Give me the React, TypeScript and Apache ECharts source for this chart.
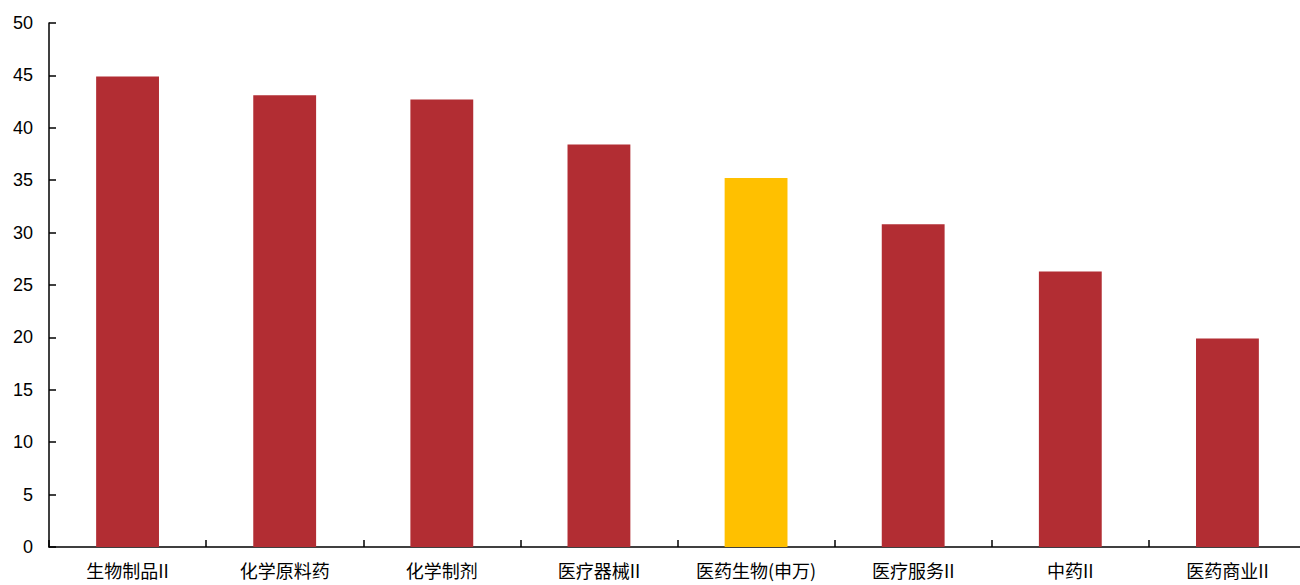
import React, { useEffect, useRef } from "react";
import * as echarts from "echarts";

const categories = ["生物制品II", "化学原料药", "化学制剂", "医疗器械II", "医药生物(申万)", "医疗服务II", "中药II", "医药商业II"];
const values = [44.9, 43.1, 42.7, 38.4, 35.2, 30.8, 26.3, 19.9];
const highlightIndex = 4;
const yTicks = { min: 0, max: 50, interval: 5 };

export default function App() {
  const ref = useRef<HTMLDivElement>(null);
  useEffect(() => {
    const chart = echarts.init(ref.current!, null, { renderer: "svg" });
    chart.setOption({
      animation: false,
      backgroundColor: "#ffffff",
      grid: { left: 49, top: 23, right: 0, bottom: 38 },
      xAxis: {
        type: "category",
        data: categories,
        axisLine: { show: true, lineStyle: { color: "#000", width: 1.5 } },
        axisTick: { show: true, alignWithLabel: false, interval: 0, inside: true, length: 7, lineStyle: { color: "#000", width: 1.5 } },
        axisLabel: { color: "#000", fontSize: 18, margin: 14, fontFamily: "Noto Sans CJK SC", interval: 0 },
      },
      yAxis: {
        type: "value",
        min: yTicks.min,
        max: yTicks.max,
        interval: yTicks.interval,
        splitLine: { show: false },
        axisLine: { show: true, lineStyle: { color: "#000", width: 1.5 } },
        axisTick: { show: true, inside: true, length: 7, lineStyle: { color: "#000", width: 1.5 } },
        axisLabel: { color: "#000", fontSize: 18, margin: 16, fontFamily: "Liberation Sans" },
      },
      series: [
        {
          type: "bar",
          barWidth: "40%",
          data: values.map((v, i) => ({
            value: v,
            itemStyle: { color: i === highlightIndex ? "#FFC000" : "#B22D33" },
          })),
        },
      ],
    });
    return () => chart.dispose();
  }, []);
  return (
    <div style={{ position: "fixed", left: 0, top: 0, width: 1300, height: 585, overflow: "hidden", background: "#fff" }}>
      <div ref={ref} style={{ width: 1306, height: 585 }} />
    </div>
  );
}
